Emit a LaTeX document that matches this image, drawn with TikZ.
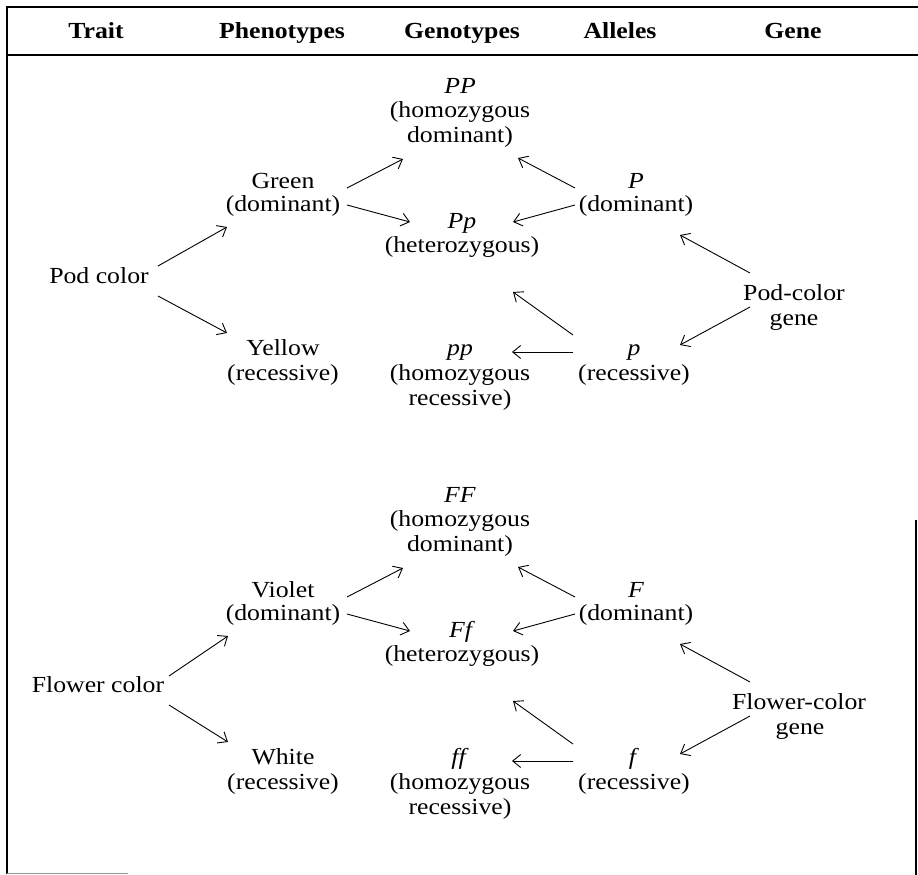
\documentclass[tikz,border=0pt]{standalone}
\usepackage{fontspec}
\setmainfont{Liberation Serif}[FakeStretch=1.12]
\usetikzlibrary{arrows.meta}
\begin{document}
\begin{tikzpicture}[x=1pt,y=-1pt,
  lbl/.style={inner sep=0pt, anchor=base, font=\fontsize{23}{25}\selectfont},
  hd/.style={lbl, font=\fontsize{23}{25}\selectfont\bfseries},
  arr/.style={-{Straight Barb[length=8pt,width=13pt]}, line width=0.9pt},
  frameline/.style={line width=1.4pt}]
\useasboundingbox (0,0) rectangle (918,875);
% frame
\draw[frameline] (7,874) -- (7,7) -- (918,7);
\draw[frameline] (7,55) -- (918,55);
\draw[line width=1pt, black!40] (7,873) -- (128,873);
\draw[frameline] (916,520) -- (916,875);
% header
\node[hd] (h1) at (96,39) {Trait};
\node[hd] (h2) at (282,39) {Phenotypes};
\node[hd] (h3) at (462,39) {Genotypes};
\node[hd] (h4) at (620,39) {Alleles};
\node[hd] (h5) at (793,39) {Gene};
% ---- top section
\node[lbl] (PPa) at (460,93) {\textit{PP}};
\node[lbl] (PPb) at (460,117) {(homozygous};
\node[lbl] (PPc) at (460,142) {dominant)};
\node[lbl] (Ga) at (283,188) {Green};
\node[lbl] (Gb) at (283,211) {(dominant)};
\node[lbl] (Ppa) at (462,228) {\textit{Pp}};
\node[lbl] (Ppb) at (462,252) {(heterozygous)};
\node[lbl] (Pa) at (636,188) {\textit{P}};
\node[lbl] (Pb) at (636,211) {(dominant)};
\node[lbl] (pod) at (99,283) {Pod color};
\node[lbl] (pga) at (794,300) {Pod-color};
\node[lbl] (pgb) at (794,325) {gene};
\node[lbl] (Ya) at (283,355) {Yellow};
\node[lbl] (Yb) at (283,380) {(recessive)};
\node[lbl] (ppa) at (460,355) {\textit{pp}};
\node[lbl] (ppb) at (460,380) {(homozygous};
\node[lbl] (ppc) at (460,405) {recessive)};
\node[lbl] (pa) at (634,355) {\textit{p}};
\node[lbl] (pb) at (634,380) {(recessive)};
% arrows top
\draw[arr] ([shift={(59,-17)}]pod.base) -- ([shift={(-56,16)}]Gb.base);
\draw[arr] ([shift={(59,13)}]pod.base) -- ([shift={(-56,-22)}]Ya.base);
\draw[arr] ([shift={(64,-23)}]Gb.base) -- ([shift={(-57,17)}]PPc.base);
\draw[arr] ([shift={(64,-6)}]Gb.base) -- ([shift={(-52,-6)}]Ppa.base);
\draw[arr] ([shift={(-61,-23)}]Pb.base) -- ([shift={(58,16)}]PPc.base);
\draw[arr] ([shift={(-61,-6)}]Pb.base) -- ([shift={(51,-6)}]Ppa.base);
\draw[arr] ([shift={(-44,-27)}]pga.base) -- ([shift={(44,24)}]Pb.base);
\draw[arr] ([shift={(-44,7)}]pga.base) -- ([shift={(46,-10)}]pa.base);
\draw[arr] ([shift={(-61,-20)}]pa.base) -- ([shift={(51,40)}]Ppb.base);
\draw[arr] ([shift={(-61,-3)}]pa.base) -- ([shift={(52,-3)}]ppa.base);
% ---- bottom section
\node[lbl] (FFa) at (460,502) {\textit{FF}};
\node[lbl] (FFb) at (460,526) {(homozygous};
\node[lbl] (FFc) at (460,551) {dominant)};
\node[lbl] (Va) at (283,597) {Violet};
\node[lbl] (Vb) at (283,620) {(dominant)};
\node[lbl] (Ffa) at (462,637) {\textit{Ff}};
\node[lbl] (Ffb) at (462,661) {(heterozygous)};
\node[lbl] (Fa) at (636,597) {\textit{F}};
\node[lbl] (Fb) at (636,620) {(dominant)};
\node[lbl] (fc) at (98,692) {Flower color};
\node[lbl] (fga) at (799,709) {Flower-color};
\node[lbl] (fgb) at (800,734) {gene};
\node[lbl] (Wa) at (283,764) {White};
\node[lbl] (Wb) at (283,789) {(recessive)};
\node[lbl] (ffa) at (460,764) {\textit{ff}};
\node[lbl] (ffb) at (460,789) {(homozygous};
\node[lbl] (ffc) at (460,814) {recessive)};
\node[lbl] (fa) at (634,764) {\textit{f}};
\node[lbl] (fb) at (634,789) {(recessive)};
% arrows bottom
\draw[arr] ([shift={(71,-16)}]fc.base) -- ([shift={(-55,16)}]Vb.base);
\draw[arr] ([shift={(71,13)}]fc.base) -- ([shift={(-55,-22)}]Wa.base);
\draw[arr] ([shift={(64,-23)}]Vb.base) -- ([shift={(-57,17)}]FFc.base);
\draw[arr] ([shift={(64,-6)}]Vb.base) -- ([shift={(-52,-6)}]Ffa.base);
\draw[arr] ([shift={(-61,-23)}]Fb.base) -- ([shift={(58,16)}]FFc.base);
\draw[arr] ([shift={(-61,-6)}]Fb.base) -- ([shift={(51,-6)}]Ffa.base);
\draw[arr] ([shift={(-49,-27)}]fga.base) -- ([shift={(44,24)}]Fb.base);
\draw[arr] ([shift={(-49,7)}]fga.base) -- ([shift={(46,-10)}]fa.base);
\draw[arr] ([shift={(-61,-20)}]fa.base) -- ([shift={(51,40)}]Ffb.base);
\draw[arr] ([shift={(-61,-3)}]fa.base) -- ([shift={(52,-3)}]ffa.base);
\end{tikzpicture}
\end{document}
